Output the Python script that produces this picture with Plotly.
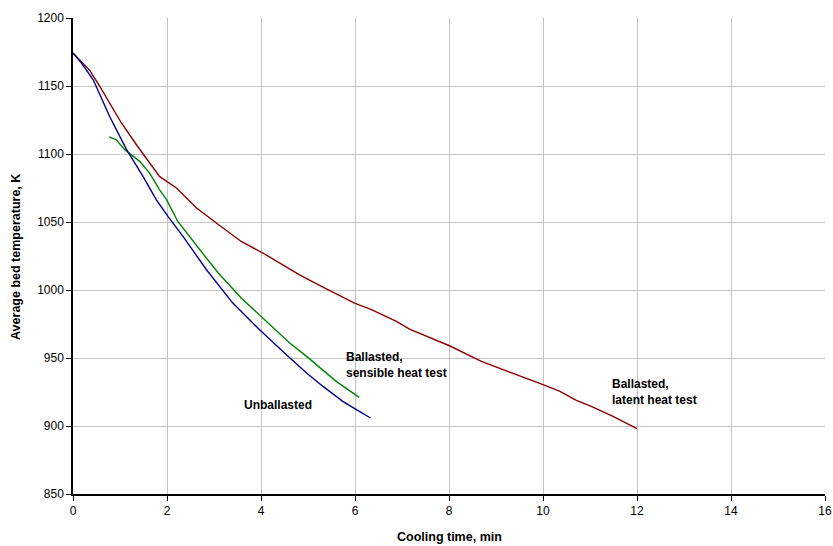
import plotly.graph_objects as go

# Ballasted, latent heat test
latent_t = [0, 0.36, 0.57, 0.78, 1.03, 1.35, 1.84, 2.2, 2.63, 3.05, 3.58, 4.04, 4.40, 4.82, 5.39,
            5.99, 6.35, 6.88, 7.16, 7.66, 8.01, 8.69, 9.36, 10.0, 10.36, 10.71, 10.99, 11.49, 12.0]
latent_T = [1174.3, 1161.3, 1149.7, 1137.5, 1122.8, 1106.8, 1083.5, 1075, 1060.3, 1049.3, 1035.7,
            1027.2, 1019.9, 1011.2, 1000.8, 990.4, 985.5, 976.9, 971.3, 964, 959, 947.5, 939,
            930.4, 925.4, 918.8, 915, 907, 898]

# Unballasted
unb_t = [0, 0.18, 0.43, 0.78, 1.14, 1.49, 1.77, 2.02, 2.34, 2.84, 3.40, 3.97, 4.54, 4.97, 5.32,
         5.74, 6.03, 6.33]
unb_T = [1174.3, 1166.9, 1154.6, 1127.6, 1103.2, 1083.5, 1066.4, 1054.1, 1039.4, 1014.9, 990.4,
         970.8, 952.4, 939, 929.1, 918.1, 912, 905.9]

# Ballasted, sensible heat test
sens_t = [0.77, 0.92, 1.10, 1.21, 1.42, 1.63, 1.84, 1.99, 2.23, 2.70, 3.09, 3.58, 3.97, 4.61,
          4.97, 5.60, 6.09]
sens_T = [1112.5, 1110.5, 1103.2, 1100.2, 1094.6, 1086, 1073.8, 1066.4, 1050.4, 1029.6, 1012.5,
          994.1, 981.8, 961, 951.2, 932.8, 921]

x_ticks = [0, 2, 4, 6, 8, 10, 12, 14, 16]
y_ticks = [850, 900, 950, 1000, 1050, 1100, 1150, 1200]

FONT = "Arial, Liberation Sans, sans-serif"

fig = go.Figure()
fig.add_trace(go.Scatter(x=latent_t, y=latent_T, mode="lines",
                         line=dict(color="#8B0000", width=1.4), name="Ballasted, latent heat test"))
fig.add_trace(go.Scatter(x=sens_t, y=sens_T, mode="lines",
                         line=dict(color="#008000", width=1.4), name="Ballasted, sensible heat test"))
fig.add_trace(go.Scatter(x=unb_t, y=unb_T, mode="lines",
                         line=dict(color="#00008B", width=1.4), name="Unballasted"))

ann_font = dict(family=FONT, size=12, color="#000000")
fig.add_annotation(x=5.76, y=945, text="<b>Ballasted,<br>sensible heat test</b>", showarrow=False,
                   xanchor="left", yanchor="middle", align="left", font=ann_font)
fig.add_annotation(x=3.60, y=915.7, text="<b>Unballasted</b>", showarrow=False,
                   xanchor="left", yanchor="middle", align="left", font=ann_font)
fig.add_annotation(x=11.42, y=925, text="<b>Ballasted,<br>latent heat test</b>", showarrow=False,
                   xanchor="left", yanchor="middle", align="left", font=ann_font)

# axis titles as annotations (exact placement)
fig.add_annotation(xref="paper", yref="paper", x=0.5, y=-0.0903,
                   text="<b>Cooling time, min</b>", showarrow=False,
                   xanchor="center", yanchor="middle", font=dict(family=FONT, size=12.5, color="#000"))
fig.add_annotation(xref="paper", yref="paper", x=-0.0758, y=0.498,
                   text="<b>Average bed temperature, K</b>", showarrow=False, textangle=-90,
                   xanchor="center", yanchor="middle", font=dict(family=FONT, size=12.5, color="#000"))

fig.update_layout(
    width=833, height=546,
    margin=dict(l=73, r=8, t=18, b=52, autoexpand=False),
    paper_bgcolor="white", plot_bgcolor="white",
    showlegend=False,
    font=dict(family=FONT, size=12, color="#000000"),
)
fig.update_xaxes(
    range=[0, 16], tickvals=x_ticks, ticktext=[str(v) for v in x_ticks],
    showgrid=True, gridcolor="#c4c4c4", gridwidth=1,
    showline=True, linecolor="#000000", linewidth=1.5,
    ticks="outside", ticklen=5, tickcolor="#000000",
    zeroline=False, automargin=False,
)
fig.update_yaxes(
    range=[850, 1200], tickvals=y_ticks, ticktext=[str(v) for v in y_ticks],
    showgrid=True, gridcolor="#c4c4c4", gridwidth=1,
    showline=True, linecolor="#000000", linewidth=1.5,
    ticks="outside", ticklen=5, tickcolor="#000000",
    zeroline=False, automargin=False,
)

fig.write_html("out.html", config={"displayModeBar": False},
               post_script="document.body.style.margin='0';")
